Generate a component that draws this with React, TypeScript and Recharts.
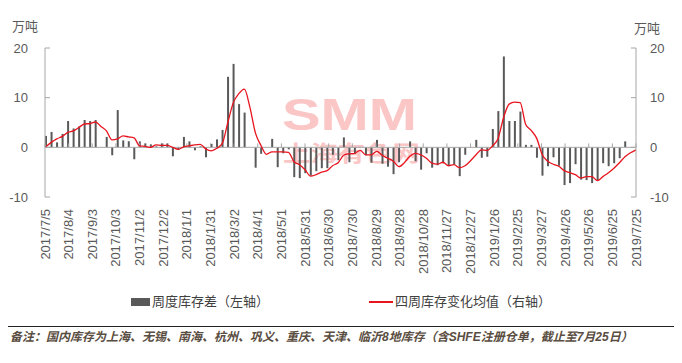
import { ComposedChart, Bar, Line, XAxis, YAxis, ReferenceLine } from 'recharts';

// x-axis labels, one every 30 days from 2017/7/5
const tickLabels = [
  '2017/7/5', '2017/8/4', '2017/9/3', '2017/10/3', '2017/11/2', '2017/12/2',
  '2018/1/1', '2018/1/31', '2018/3/2', '2018/4/1', '2018/5/1', '2018/5/31',
  '2018/6/30', '2018/7/30', '2018/8/29', '2018/9/28', '2018/10/28', '2018/11/27',
  '2018/12/27', '2019/1/26', '2019/2/25', '2019/3/27', '2019/4/26', '2019/5/26',
  '2019/6/25', '2019/7/25',
];

// weekly inventory change (万吨), Thursdays 2017/7/6 .. 2019/7/25
const weeklyChange = [
  2.3, 3.1, 1.0, 2.7, 5.3, 3.8, 4.2, 5.5, 5.3, 5.5,
  0, 2.1, -1.6, 7.5, 1.4, 1.2, -2.4, 1.2, 0.8, 0.6,
  0.2, 0.8, 0.8, -1.8, -0.5, 2.1, 1.2, -0.6, 0.2, -2.0,
  0.7, 1.6, 3.5, 14.2, 16.8, 8.7, 7.0, 0, -4.1, -1.3,
  0, 1.7, -4.0, -1.2, -0.4, -6.0, -6.2, -5.2, -5.7, -4.8,
  -4.2, -4.2, -1.5, -2.6, 2.0, -3.0, -1.3, 0, -1.6, -3.1,
  1.5, -3.3, -3.9, -5.4, -3.0, 0, 1.2, -2.8, -4.5, -1.2,
  -4.1, -3.6, -3.2, -3.8, -3.5, -5.8, -1.5, 0, 1.5, -2.1,
  -1.9, 3.7, 7.3, 18.3, 5.3, 5.3, 7.2, 0.5, 0.5, -2.1,
  -5.7, -3.8, -2.0, -3.7, -7.6, -7.2, -3.4, -6.5, -6.6, -7.2,
  -6.6, -3.2, -3.8, -3.2, -2.2, 1.2, 0, 0,
];

// four-week average line (右轴)
const avg4 = [
  0.1, 1.0, 1.7, 2.2, 3.0, 3.3, 4.0, 4.7, 4.8, 5.1,
  4.2, 3.3, 1.5, 1.7, 2.3, 2.1, 1.9, 0.3, 0.2, 0.0,
  0.5, 0.4, 0.4, 0.0, -0.4, 0.1, 0.3, 0.5, 0.6, -0.3,
  -0.7, -0.2, 0.8, 5.0, 9.0, 10.8, 11.7, 8.1, 2.9, 0.4,
  -1.4, -0.9, -0.9, -0.9, -1.0, -2.9, -3.5, -4.5, -5.8, -5.5,
  -5.0, -4.7, -3.7, -3.1, -1.6, -1.3, -1.2, -0.6, -1.5, -1.5,
  -0.8, -1.6, -2.2, -2.8, -3.9, -3.1, -1.8, -1.2, -1.5, -2.2,
  -3.2, -3.4, -3.0, -3.7, -3.5, -4.1, -3.7, -2.7, -1.5, -0.5,
  -0.6, 0.3, 1.8, 6.0, 8.7, 9.1, 9.0, 4.6, 3.4, 1.8,
  -1.5, -2.8, -3.4, -3.8, -4.7, -5.1, -5.5, -6.2, -5.9, -5.9,
  -6.7, -5.9, -5.1, -4.2, -3.1, -1.9, -1.1, -0.5,
];

const yTicks = [-10, 0, 10, 20];

// day 0 = 2017/7/5, first weekly point is 2017/7/6
const data = weeklyChange.map((v, i) => ({ day: 1 + i * 7, weekly: v, avg4: avg4[i] }));
const tickDays = tickLabels.map((_, i) => i * 30);

const FONT = "'Liberation Sans', 'Noto Sans CJK SC', sans-serif";
const AXIS_GRAY = '#a6a6a6';
const TEXT_GRAY = '#595959';
const RED = '#e8141e';
const PINK = '#fbc6c6';

function DateTick(props: any) {
  const { x, y, payload } = props;
  const label = tickLabels[Math.round(payload.value / 30)];
  return (
    <g transform={`translate(${x},${y})`}>
      <text transform="rotate(-90)" textAnchor="end" dy="0.35em" fill={TEXT_GRAY} fontSize={13}>
        {label}
      </text>
    </g>
  );
}

function App() {
  return (
    <div style={{ position: 'relative', width: 682, height: 363, margin: -8, background: '#fff', fontFamily: FONT, overflow: 'hidden' }}>
      {/* watermark */}
      <svg width={682} height={363} style={{ position: 'absolute', left: 0, top: 0 }}>
        <text x={282} y={130} fontSize={44} fontWeight={900} fill={PINK} textLength={135} lengthAdjust="spacingAndGlyphs">
          SMM
        </text>
        <text x={283} y={161} fontSize={22} fontWeight={700} fill={PINK} textLength={137} lengthAdjust="spacingAndGlyphs">
          上海有色网
        </text>
      </svg>

      <div style={{ position: 'absolute', left: 12, top: 16, fontSize: 13, color: TEXT_GRAY }}>万吨</div>
      <div style={{ position: 'absolute', left: 634, top: 18, fontSize: 13, color: TEXT_GRAY }}>万吨</div>

      <div style={{ position: 'absolute', left: 0, top: 0 }}>
        <ComposedChart width={682} height={300} data={data} margin={{ top: 48, right: 0, bottom: 0, left: 0 }}>
          <XAxis
            dataKey="day"
            type="number"
            domain={[0, 750]}
            ticks={tickDays}
            interval={0}
            axisLine={false}
            tickLine={false}
            tickSize={0}
            tickMargin={12}
            height={103}
            tick={<DateTick />}
          />
          <YAxis
            yAxisId="left"
            domain={[-10, 20]}
            ticks={yTicks}
            interval={0}
            width={45}
            axisLine={{ stroke: AXIS_GRAY }}
            tickLine={{ stroke: AXIS_GRAY }}
            tickSize={-5}
            tickMargin={22}
            tick={{ fill: TEXT_GRAY, fontSize: 13 }}
          />
          <YAxis
            yAxisId="right"
            orientation="right"
            domain={[-10, 20]}
            ticks={yTicks}
            interval={0}
            width={46}
            axisLine={{ stroke: AXIS_GRAY }}
            tickLine={{ stroke: AXIS_GRAY }}
            tickSize={-5}
            tickMargin={19}
            tick={{ fill: TEXT_GRAY, fontSize: 13 }}
          />
          <ReferenceLine yAxisId="left" y={0} stroke={AXIS_GRAY} />
          {tickDays.map((d) => (
            <ReferenceLine
              key={d}
              yAxisId="left"
              segment={[{ x: d, y: 0 }, { x: d, y: 0.8 }]}
              stroke={AXIS_GRAY}
            />
          ))}
          <Bar yAxisId="left" dataKey="weekly" fill="#595959" barSize={2} isAnimationActive={false} />
          <Line
            yAxisId="right"
            dataKey="avg4"
            type="monotone"
            stroke={RED}
            strokeWidth={1.3}
            dot={false}
            activeDot={false}
            isAnimationActive={false}
          />
        </ComposedChart>
      </div>

      {/* legend */}
      <div style={{ position: 'absolute', left: 131, top: 298, width: 19, height: 8, background: '#595959' }} />
      <div style={{ position: 'absolute', left: 152, top: 293, fontSize: 13, color: '#404040', lineHeight: '18px' }}>
        周度库存差（左轴）
      </div>
      <div style={{ position: 'absolute', left: 369, top: 301, width: 24, height: 1.5, background: RED }} />
      <div style={{ position: 'absolute', left: 395, top: 293, fontSize: 13, color: '#404040', lineHeight: '18px' }}>
        四周库存变化均值（右轴）
      </div>

      {/* note */}
      <div style={{ position: 'absolute', left: 8, top: 326, width: 674, height: 0, borderTop: '1.5px solid #222' }} />
      <div style={{ position: 'absolute', left: 10, top: 329, fontSize: 12, fontStyle: 'italic', fontWeight: 700, color: '#5a4d41', lineHeight: '16px', whiteSpace: 'nowrap' }}>
        备注：国内库存为上海、无锡、南海、杭州、巩义、重庆、天津、临沂8地库存（含SHFE注册仓单，截止至7月25日）
      </div>
    </div>
  );
}

export default App;
